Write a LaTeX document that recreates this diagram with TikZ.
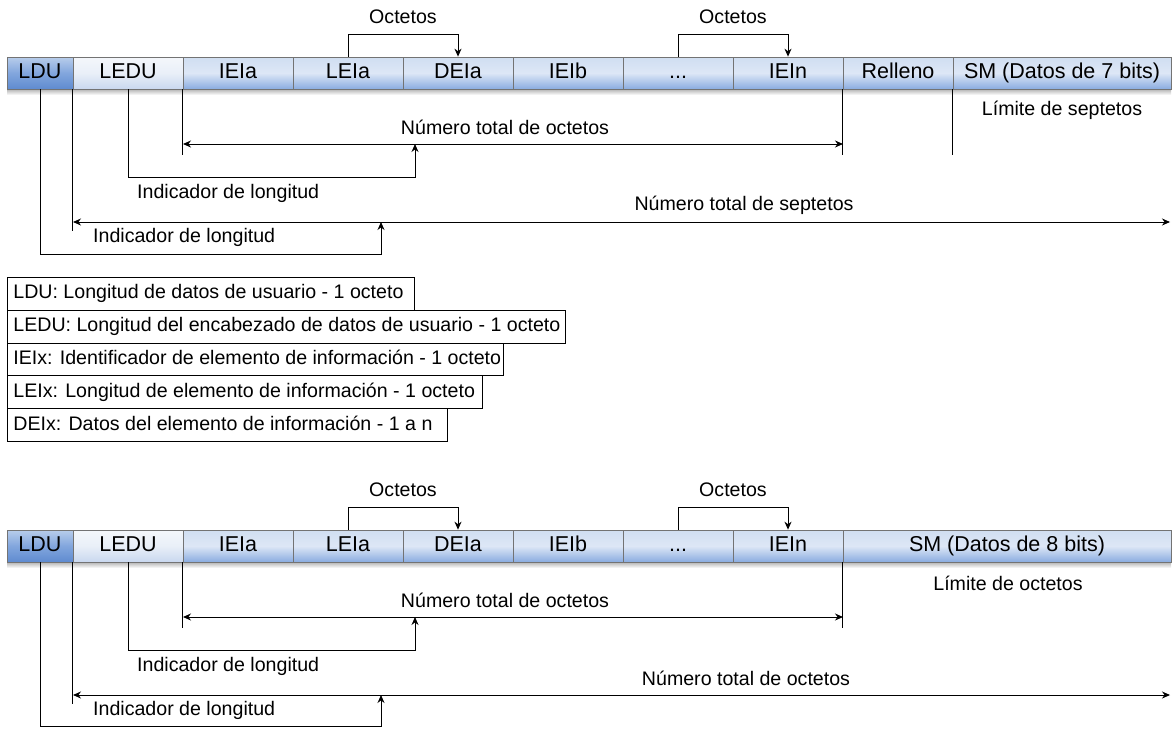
\documentclass[tikz,border=0pt]{standalone}
\usepackage{fontspec}
\setmainfont{Liberation Sans}
\usetikzlibrary{arrows.meta}

\definecolor{cellTop}{HTML}{D0DEF1}
\definecolor{cellMid}{HTML}{DDE7F6}
\definecolor{cellBot}{HTML}{8AACE0}
\definecolor{lduTop}{HTML}{B8CDEB}
\definecolor{lduMid}{HTML}{82A6DD}
\definecolor{lduBot}{HTML}{5F8BD0}
\definecolor{leduTop}{HTML}{F4F7FB}
\definecolor{leduMid}{HTML}{E9EFF8}
\definecolor{leduBot}{HTML}{C9D8EF}

\tikzset{
  cell/.style={draw=black!55, line width=0.7pt, minimum height=32pt, inner sep=0pt,
    text height=15.5pt, text depth=4.5pt,
    font=\fontsize{21.5}{24}\selectfont,
    top color=cellTop, bottom color=cellBot, middle color=cellMid},
  lducell/.style={cell, top color=lduTop, bottom color=lduBot, middle color=lduMid},
  leducell/.style={cell, top color=leduTop, bottom color=leduBot, middle color=leduMid},
  lbl/.style={font=\fontsize{19.6}{22}\selectfont, inner sep=0pt},
  conn/.style={line width=1pt, draw=black},
  tip/.style={conn, -{Stealth[length=8pt,width=7pt]}},
  both/.style={conn, {Stealth[length=8pt,width=7pt]}-{Stealth[length=8pt,width=7pt]}},
  keybox/.style={lbl, draw, line width=0.8pt, anchor=north west, minimum height=32.8pt,
    inner xsep=6pt, inner ysep=0pt, text height=14pt, text depth=4pt},
  barshadow/.style={top color=black!30, bottom color=white, draw=none},
}

% one cell of a field bar: name, left x, right x, centre y, text, style
\newcommand\barcell[6]{%
  \node[#6, minimum width={#3-#2}] (#1) at ({(#2+#3)/2},#4) {#5};}
% one line of the abbreviation list: name, top y, inner width, text
\newcommand\keyline[4]{%
  \node[keybox] (#1) at (7,#2) {\makebox[#3pt][l]{#4}};}

\begin{document}
\begin{tikzpicture}[x=1pt,y=-1pt]
\useasboundingbox[fill=white] (0,0) rectangle (1172,728);

% ---------------- 7-bit user data ----------------
\shade[barshadow] (7,89) rectangle (1171,95);
\barcell{ldu}{7}{73}{73}{LDU}{lducell}
\barcell{ledu}{73}{183}{73}{LEDU}{leducell}
\barcell{iea}{183}{293}{73}{IEIa}{cell}
\barcell{lea}{293}{403}{73}{LEIa}{cell}
\barcell{dea}{403}{513}{73}{DEIa}{cell}
\barcell{ieb}{513}{623}{73}{IEIb}{cell}
\barcell{dots}{623}{733}{73}{...}{cell}
\barcell{ien}{733}{843}{73}{IEIn}{cell}
\barcell{rel}{843}{953}{73}{Relleno}{cell}
\barcell{sm}{953}{1171}{73}{SM (Datos de 7 bits)}{cell}

\node[lbl] (octA) at (403,17) {Octetos};
\node[lbl] (octB) at (733,17) {Octetos};
\draw[tip] (lea.north) -- ++(0,-22) -| (dea.north);
\draw[tip] (dots.north) -- ++(0,-22) -| (ien.north);

\draw[conn] (iea.south west) -- ++(0,66);
\draw[conn] (rel.south west) -- ++(0,66);
\draw[conn] (sm.south west) -- ++(0,66);
\draw[conn] (ledu.south west) -- ++(0,142);

\coordinate (octL) at (183,144);
\coordinate (octR) at (843,144);
\coordinate (octP) at (415,144);
\draw[both] (octL) -- (octR);
\node[lbl] (octTot) at (505,127) {Número total de octetos};

\draw[tip] (ledu.south) -- ++(0,88) -| (octP);
\node[lbl, anchor=west] (indA) at (137,193) {Indicador de longitud};

\coordinate (sepL) at (73,222);
\coordinate (sepR) at (1170,222);
\coordinate (sepP) at (381,222);
\draw[both] (sepL) -- (sepR);
\node[lbl] (sepTot) at (744,205) {Número total de septetos};

\draw[tip] (ldu.south) -- ++(0,165) -| (sepP);
\node[lbl, anchor=west] (indB) at (93,237) {Indicador de longitud};

\node[lbl] (limA) at (1062,110) {Límite de septetos};

% ---------------- abbreviations ----------------
\keyline{kLDU}{277.0}{395}{LDU: Longitud de datos de usuario - 1 octeto}
\keyline{kLEDU}{309.8}{546}{LEDU: Longitud del encabezado de datos de usuario - 1 octeto}
\keyline{kIEI}{342.6}{484}{IEIx: Identificador de elemento de información - 1 octeto}
\keyline{kLEI}{375.4}{463}{LEIx: Longitud de elemento de información - 1 octeto}
\keyline{kDEI}{408.2}{428}{DEIx: Datos del elemento de información - 1 a n}

% ---------------- 8-bit user data ----------------
\shade[barshadow] (7,562) rectangle (1171,568);
\barcell{lduB}{7}{73}{546}{LDU}{lducell}
\barcell{leduB}{73}{183}{546}{LEDU}{leducell}
\barcell{ieaB}{183}{293}{546}{IEIa}{cell}
\barcell{leaB}{293}{403}{546}{LEIa}{cell}
\barcell{deaB}{403}{513}{546}{DEIa}{cell}
\barcell{iebB}{513}{623}{546}{IEIb}{cell}
\barcell{dotsB}{623}{733}{546}{...}{cell}
\barcell{ienB}{733}{843}{546}{IEIn}{cell}
\barcell{smB}{843}{1171}{546}{SM (Datos de 8 bits)}{cell}

\node[lbl] (octC) at (403,490) {Octetos};
\node[lbl] (octD) at (733,490) {Octetos};
\draw[tip] (leaB.north) -- ++(0,-22) -| (deaB.north);
\draw[tip] (dotsB.north) -- ++(0,-22) -| (ienB.north);

\draw[conn] (ieaB.south west) -- ++(0,66);
\draw[conn] (smB.south west) -- ++(0,66);
\draw[conn] (leduB.south west) -- ++(0,142);

\coordinate (octLB) at (183,617);
\coordinate (octRB) at (843,617);
\coordinate (octPB) at (415,617);
\draw[both] (octLB) -- (octRB);
\node[lbl] (octTotB) at (505,600) {Número total de octetos};

\draw[tip] (leduB.south) -- ++(0,88) -| (octPB);
\node[lbl, anchor=west] (indC) at (137,666) {Indicador de longitud};

\coordinate (totL) at (73,695);
\coordinate (totR) at (1170,695);
\coordinate (totP) at (381,695);
\draw[both] (totL) -- (totR);
\node[lbl] (totB) at (746,678) {Número total de octetos};

\draw[tip] (lduB.south) -- ++(0,164.5) -| (totP);
\node[lbl, anchor=west] (indD) at (93,710) {Indicador de longitud};

\node[lbl] (limB) at (1008,583) {Límite de octetos};
\end{tikzpicture}
\end{document}
